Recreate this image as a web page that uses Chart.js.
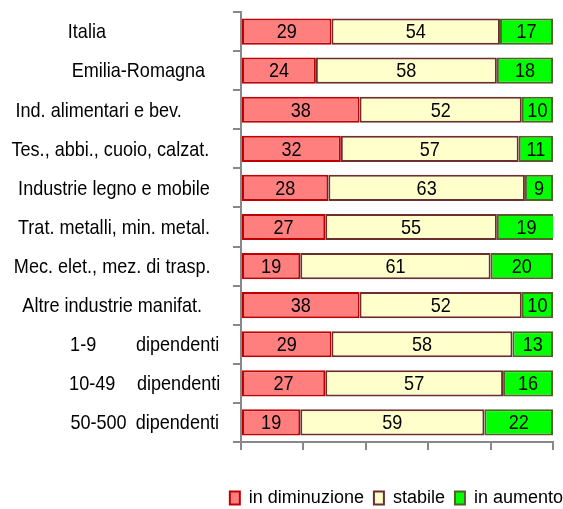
<!DOCTYPE html>
<html><head><meta charset="utf-8">
<script src="https://cdn.jsdelivr.net/npm/chart.js@4.4.1/dist/chart.umd.min.js"></script>
<style>html,body{margin:0;padding:0;background:#fff}#w{width:563px;height:509px;position:relative}</style>
</head><body><div id="w"><canvas id="c"></canvas></div>
<script>
const categories = [
  "Italia\u2003\u2003\u2003",
  "\u2003\u2003\u2002\u2009Emilia-Romagna",
  "Ind. alimentari e bev.\u2003\u2002\u2009",
  "Tes., abbi., cuoio, calzat.\u2009\u2009",
  "Industrie legno e mobile",
  "Trat. metalli, min. metal.",
  "Mec. elet., mez. di trasp.\u2009",
  "Altre industrie manifat.\u2009",
  "\u2003\u2003\u2003\u2009\u20091-9\u2003\u2003\u2009dipendenti",
  "\u2003\u2003\u2003\u2009\u200910-49\u2003\u2009dipendenti",
  "\u2003\u2003\u2003\u2009\u200950-500\u2002dipendenti"
];
const seriesNames = ["in diminuzione", "stabile", "in aumento"];
const inDiminuzione = [29, 24, 38, 32, 28, 27, 19, 38, 29, 27, 19];
const stabile = [54, 58, 52, 57, 63, 55, 61, 52, 58, 57, 59];
const inAumento = [17, 18, 10, 11, 9, 19, 20, 10, 13, 16, 22];
const xTicks = [0, 20, 40, 60, 80, 100];

const FONT = "'Liberation Sans', Arial, sans-serif";
const SQUEEZE = 0.86;

function squeezedText(ctx, text, x, y) {
  ctx.save();
  ctx.translate(x, y);
  ctx.scale(SQUEEZE, 1);
  ctx.fillText(text, 0, 0);
  ctx.restore();
}

const textPlugin = {
  id: 'textPlugin',
  afterDatasetsDraw(chart) {
    const ctx = chart.ctx;
    ctx.save();
    ctx.font = "21px " + FONT;
    ctx.fillStyle = '#000';
    ctx.textAlign = 'center';
    ctx.textBaseline = 'middle';
    chart.data.datasets.forEach((ds, i) => {
      chart.getDatasetMeta(i).data.forEach((el, j) => {
        const p = el.getCenterPoint();
        squeezedText(ctx, String(ds.data[j]), p.x, p.y + 1);
      });
    });
    const ys = chart.scales.y;
    const cx = ys.right - 127;
    chart.data.labels.forEach((lab, i) => {
      squeezedText(ctx, lab, cx, ys.getPixelForTick(i) + 1);
    });
    ctx.restore();
  }
};

const legendShift = {
  id: 'legendShift',
  beforeInit(chart) {
    const lg = chart.legend;
    if (!lg) return;
    const fit = lg.fit;
    lg.fit = function () { fit.call(lg); lg.height -= 8; };
  },
  afterLayout(chart) {
    const lg = chart.legend;
    if (!lg) return;
    lg.left += 20;
    lg.right += 20;
  }
};

new Chart(document.getElementById('c'), {
  type: 'bar',
  data: {
    labels: categories,
    datasets: [
      { label: seriesNames[0], data: inDiminuzione, backgroundColor: '#FF7F7F', borderColor: '#C00000', borderWidth: 2, borderSkipped: false },
      { label: seriesNames[1], data: stabile, backgroundColor: '#FFFFCC', borderColor: '#6B2F2F', borderWidth: 2, borderSkipped: false },
      { label: seriesNames[2], data: inAumento, backgroundColor: '#00FF00', borderColor: '#4F6228', borderWidth: 2, borderSkipped: false }
    ]
  },
  options: {
    indexAxis: 'y',
    responsive: true,
    maintainAspectRatio: false,
    animation: false,
    layout: { padding: { top: 12, right: 10, left: 0, bottom: 0 } },
    datasets: { bar: { categoryPercentage: 1, barPercentage: 0.67 } },
    scales: {
      x: {
        stacked: true, min: 0, max: 100,
        afterBuildTicks(axis) { axis.ticks = xTicks.map(v => ({ value: v })); },
        afterFit(axis) { axis.height = 37; },
        ticks: { display: false },
        grid: { drawOnChartArea: false, tickLength: 8, color: '#888', lineWidth: 2 },
        border: { display: true, color: '#888', width: 2 }
      },
      y: {
        stacked: true,
        afterFit(axis) { axis.width = 241; },
        ticks: { display: false },
        grid: { drawOnChartArea: false, tickLength: 8, color: '#888', lineWidth: 2 },
        border: { display: true, color: '#888', width: 2 }
      }
    },
    plugins: {
      legend: {
        position: 'bottom', align: 'end',
        labels: { color: '#000', boxWidth: 10, boxHeight: 13, padding: 10, font: { family: FONT, size: 18 } }
      },
      tooltip: { enabled: false }
    }
  },
  plugins: [textPlugin, legendShift]
});
</script></body></html>
